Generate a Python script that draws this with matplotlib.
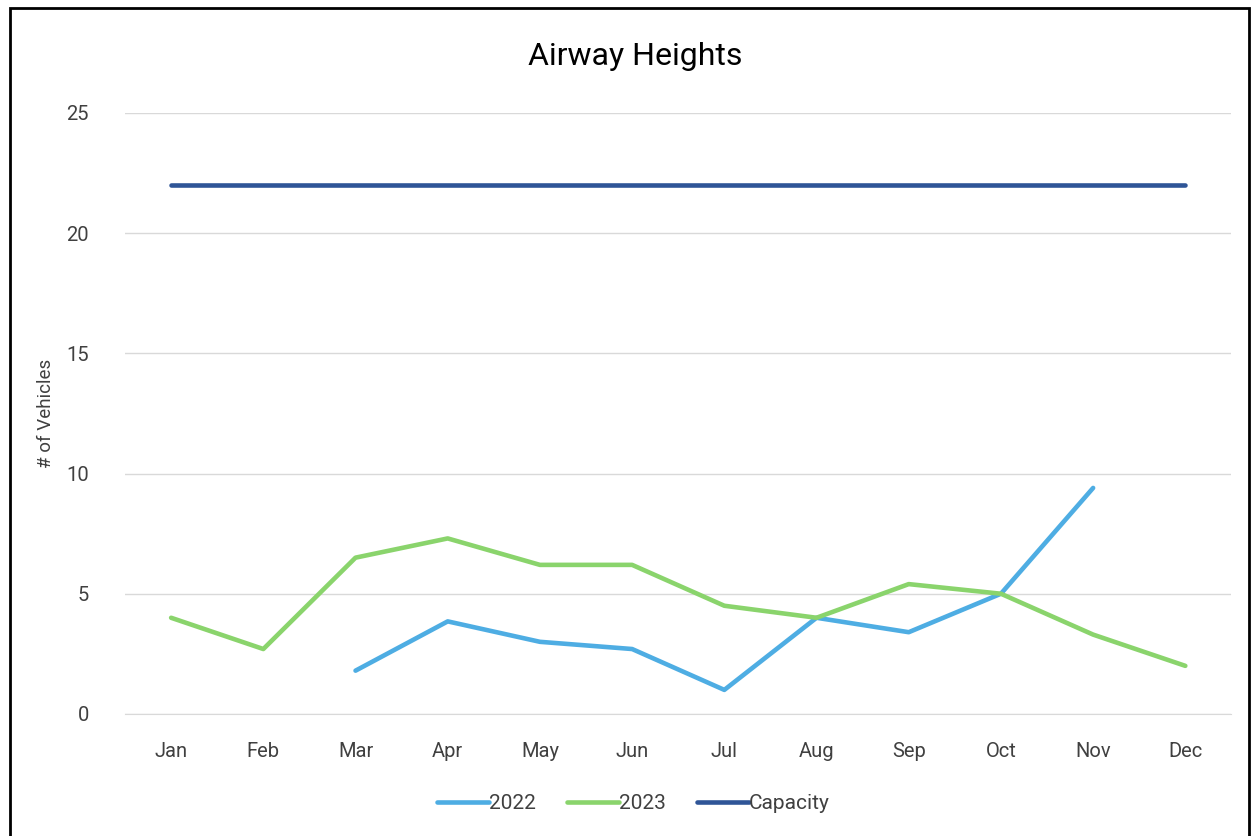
#Airway Heights line chart

import numpy as np
import matplotlib.pyplot as plt
from matplotlib.patches import Rectangle

#Data
months = ['Jan', 'Feb', 'Mar', 'Apr', 'May', 'Jun', 'Jul', 'Aug', 'Sep', 'Oct', 'Nov', 'Dec']
vals_2022 = [np.nan, np.nan, 1.8, 3.85, 3.0, 2.7, 1.0, 4.0, 3.4, 5.0, 9.4, np.nan]
vals_2023 = [4.0, 2.7, 6.5, 7.3, 6.2, 6.2, 4.5, 4.0, 5.4, 5.0, 3.3, 2.0]
capacity = [22] * 12
y_ticks = [0, 5, 10, 15, 20, 25]

plt.rcParams['font.family'] = ['Roboto', 'DejaVu Sans']

fig = plt.figure(figsize=(12.54, 8.36), dpi=100)
ax = fig.add_axes([0.0997, 0.146, 0.8823, 0.719])

x = np.arange(len(months))
ax.plot(x, vals_2022, color='#4EADE3', lw=3.3, label='2022', solid_capstyle='round')
ax.plot(x, vals_2023, color='#8AD46C', lw=3.3, label='2023', solid_capstyle='round')
ax.plot(x, capacity, color='#2F5597', lw=3.3, label='Capacity', solid_capstyle='round')

ax.set_xlim(-0.5, 11.5)
ax.set_ylim(0, 25)
ax.set_xticks(x)
ax.set_xticklabels(months)
ax.set_yticks(y_ticks)
ax.tick_params(axis='both', length=0, labelsize=14.5, colors='#404040')
ax.tick_params(axis='x', pad=20)
ax.tick_params(axis='y', pad=26)
ax.grid(axis='y', color='#D9D9D9', lw=1)
ax.set_axisbelow(True)
for s in ['top', 'right', 'left']:
    ax.spines[s].set_visible(False)
ax.spines['bottom'].set_color('#D9D9D9')

ax.set_ylabel('# of Vehicles', fontsize=13.5, color='#404040', labelpad=8)
fig.text(0.5065, 0.933, 'Airway Heights', ha='center', va='center', fontsize=23, color='#000000')

fig.legend(loc='center', bbox_to_anchor=(0.505, 0.039), ncol=3, frameon=False,
           fontsize=15, handlelength=2.5, handletextpad=0.0, columnspacing=1.5,
           labelcolor='#404040')

#black frame around the screenshot
fig.patches.append(Rectangle((0.008, -0.01), 0.988, 1.0, transform=fig.transFigure,
                             fill=False, edgecolor='black', lw=2))

plt.savefig('out.png', dpi=100)
